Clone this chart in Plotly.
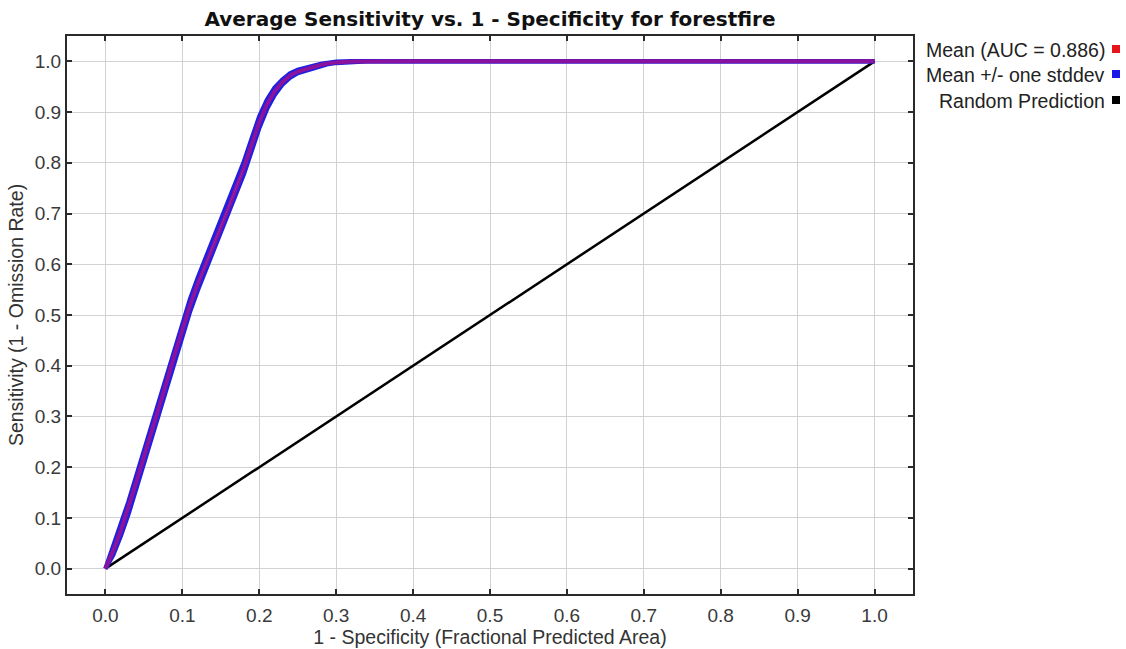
import plotly.graph_objects as go

# ---- data ----
mean_x = [0.00, 0.01, 0.02, 0.03, 0.04, 0.05, 0.06, 0.07, 0.08, 0.09, 0.10,
          0.11, 0.12, 0.13, 0.14, 0.15, 0.16, 0.17, 0.18, 0.19, 0.20, 0.21,
          0.22, 0.23, 0.24, 0.25, 0.26, 0.27, 0.28, 0.29, 0.30, 0.32, 0.34,
          0.40, 0.50, 0.60, 0.70, 0.80, 0.90, 1.00]
mean_y = [0.000, 0.035, 0.075, 0.120, 0.170, 0.220, 0.268, 0.318, 0.370, 0.422, 0.472,
          0.519, 0.561, 0.600, 0.637, 0.673, 0.711, 0.750, 0.790, 0.835, 0.880, 0.915,
          0.941, 0.959, 0.972, 0.980, 0.985, 0.989, 0.993, 0.996, 0.998, 0.9995, 1.000,
          1.000, 1.000, 1.000, 1.000, 1.000, 1.000, 1.000]
stddev = [0.000, 0.008, 0.010, 0.012, 0.012, 0.012, 0.012, 0.012, 0.012, 0.012, 0.012,
          0.012, 0.012, 0.012, 0.012, 0.012, 0.012, 0.012, 0.012, 0.012, 0.011, 0.009,
          0.007, 0.005, 0.004, 0.003, 0.003, 0.002, 0.002, 0.001, 0.001, 0.0005, 0.000,
          0.000, 0.000, 0.000, 0.000, 0.000, 0.000, 0.000]
random_x = [0.0, 1.0]
random_y = [0.0, 1.0]

title_text = "Average Sensitivity vs. 1 - Specificity for forestfire"
x_title = "1 - Specificity (Fractional Predicted Area)"
y_title = "Sensitivity (1 - Omission Rate)"
legend_labels = ["Mean (AUC = 0.886)", "Mean +/- one stddev", "Random Prediction"]
legend_colors = ["#e8141c", "#1a1ae6", "#000000"]
tick_vals = [0.0, 0.1, 0.2, 0.3, 0.4, 0.5, 0.6, 0.7, 0.8, 0.9, 1.0]
tick_text = ["0.0", "0.1", "0.2", "0.3", "0.4", "0.5", "0.6", "0.7", "0.8", "0.9", "1.0"]

upper_y = [min(1.0, m + s) for m, s in zip(mean_y, stddev)]
lower_y = [max(0.0, m - s) for m, s in zip(mean_y, stddev)]

W, H = 1126, 649
PL, PR, PT, PB = 67, 913, 36, 594  # plot area in page pixels

def px_to_paper_x(px):
    return (px - PL) / (PR - PL)

def py_to_paper_y(py):
    return (PB - py) / (PB - PT)

FONT = "Liberation Sans, Arial, sans-serif"

fig = go.Figure()
fig.add_trace(go.Scatter(x=random_x, y=random_y, mode="lines",
                         line=dict(color="#000000", width=2.5), showlegend=False))
fig.add_trace(go.Scatter(x=mean_x, y=upper_y, mode="lines",
                         line=dict(color="#2020e0", width=4.5), showlegend=False))
fig.add_trace(go.Scatter(x=mean_x, y=lower_y, mode="lines",
                         line=dict(color="#2020e0", width=4.5), showlegend=False))
fig.add_trace(go.Scatter(x=mean_x, y=mean_y, mode="lines",
                         line=dict(color="rgba(210,10,110,0.6)", width=4), showlegend=False))

axis_common = dict(
    range=[-0.05, 1.05], tickvals=tick_vals, ticktext=tick_text,
    showgrid=True, gridcolor="#d2d2d2", gridwidth=1,
    showline=True, linecolor="#2a2a2a", linewidth=2, mirror="ticks",
    ticks="inside", ticklen=5, tickwidth=1.5, tickcolor="#2a2a2a",
    zeroline=False, automargin=False,
    tickfont=dict(family=FONT, size=19, color="#3a3a3a"),
    title_font=dict(family=FONT, size=19.5, color="#333333"),
)

fig.update_xaxes(**axis_common, title_text=x_title, title_standoff=6, ticklabelstandoff=3)
fig.update_yaxes(**axis_common, title_text=y_title, title_standoff=6)

fig.update_layout(
    width=W, height=H,
    margin=dict(l=PL, r=W - PR, t=PT, b=H - PB, pad=0),
    plot_bgcolor="white", paper_bgcolor="white",
    showlegend=False,
    title=dict(text="<b>" + title_text + "</b>", xref="container", yref="container",
               x=490 / W, xanchor="center",
               y=1 - 19 / H, yanchor="middle",
               font=dict(family="DejaVu Sans, Verdana, sans-serif", size=20, color="#111111")),
)

legend_y_px = [50, 75, 101]
for lbl, col, ypx in zip(legend_labels, legend_colors, legend_y_px):
    fig.add_annotation(x=px_to_paper_x(1107), y=py_to_paper_y(ypx), xref="paper", yref="paper",
                       text=lbl, showarrow=False, xanchor="right", yanchor="middle",
                       font=dict(family=FONT, size=19.5, color="#222222"))
    fig.add_shape(type="rect", xref="paper", yref="paper",
                  x0=px_to_paper_x(1112), x1=px_to_paper_x(1120),
                  y0=py_to_paper_y(ypx + 3), y1=py_to_paper_y(ypx - 5),
                  fillcolor=col, line=dict(width=0), layer="above")

fig.write_html("out.html", config={"displayModeBar": False},
               post_script="document.body.style.margin='0px';document.body.style.overflow='hidden';")
